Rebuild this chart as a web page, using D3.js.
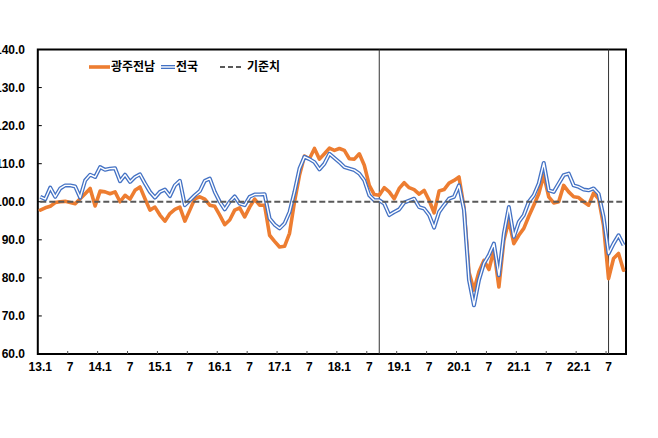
<!DOCTYPE html>
<html><head><meta charset="utf-8">
<script src="https://cdn.jsdelivr.net/npm/d3@7"></script>
<style>html,body{margin:0;padding:0;background:#fff;overflow:hidden}</style>
</head><body><svg id="c" width="658" height="438"></svg>
<script>
// ---- data ----
const years = [13,14,15,16,17,18,19,20,21,22];
const categories = [];
years.forEach(y => { for (let m = 1; m <= 12; m++) { if (y === 22 && m > 10) break; categories.push(y + "." + m); } });

const gwangjuJeonnam = [
 97.8,98.4,98.8,99.8,100.0,100.1,99.8,99.5,100.8,102.1,103.5,98.9,
 102.8,102.6,102.1,102.6,100.0,101.7,100.7,103.0,103.9,100.8,97.8,98.6,
 96.5,94.9,96.9,98.0,98.6,94.9,97.8,100.8,101.3,100.7,99.1,98.8,
 96.5,94.0,95.2,97.8,98.4,96.0,98.6,100.7,99.1,99.1,91.2,89.6,
 88.1,88.3,91.7,100.0,107.0,112.0,111.3,114.0,111.2,112.6,114.1,113.5,
 114.0,113.5,111.3,111.2,112.6,109.6,104.3,101.9,101.7,103.7,102.6,100.8,
 103.5,105.0,103.7,103.2,102.0,103.0,100.4,97.1,102.8,103.2,104.9,105.6,
 106.5,98.5,81.5,76.8,81.6,84.6,82.2,87.3,77.6,89.9,95.1,89.0,
 91.2,93.0,96.2,99.1,102.1,107.0,101.3,99.7,100.0,104.3,102.6,101.3,
 101.1,100.0,99.1,102.3,100.8,93.8,79.8,85.1,86.4,82.0
];
const national = [
 101.3,100.7,103.7,101.3,103.5,104.3,104.3,104.0,101.1,105.6,107.1,106.5,
 109.1,108.4,108.7,108.8,105.4,107.1,105.2,106.5,107.2,104.8,102.6,101.1,
 102.6,103.2,101.5,104.3,105.5,99.1,100.4,101.7,102.8,105.5,106.1,102.6,
 100.0,98.0,100.0,101.4,99.5,99.1,101.3,101.9,101.9,102.0,95.6,94.0,
 93.0,94.3,97.3,102.6,108.7,111.8,111.2,110.4,108.5,110.0,112.6,111.5,
 110.4,109.1,108.7,108.3,107.4,105.6,101.7,100.4,100.4,99.5,96.5,97.3,
 98.0,99.8,100.3,100.8,98.6,98.2,96.5,93.2,97.3,99.1,100.8,101.3,
 104.3,97.8,79.5,72.8,79.4,83.8,86.0,89.0,80.7,91.6,98.6,90.8,
 94.7,96.5,100.0,101.7,104.8,110.2,103.0,102.6,104.8,107.0,107.4,104.3,
 103.9,103.2,103.0,103.5,102.1,96.0,86.4,89.0,91.2,88.6
];
const baseline = 100;
const yTicks = [60,70,80,90,100,110,120,130,140];
const xTickLabels = ["13.1","7","14.1","7","15.1","7","16.1","7","17.1","7","18.1","7","19.1","7","20.1","7","21.1","7","22.1","7"];
const markerMonths = ["18.9","22.7"];
const seriesNames = ["광주전남","전국","기준치"];

// ---- layout ----
const L = 37.8, R = 626, T = 49.5, B = 354;
const svg = d3.select("#c");
const x = d3.scaleBand().domain(categories).range([L, R]).padding(0);
const bw = x.bandwidth();
const cx = c => x(c) + bw / 2;
const y = d3.scaleLinear().domain([60, 140]).range([B, T]);

const ORANGE = "#ED7D31", BLUE = "#4472C4", GRAY = "#595959";

// frame
svg.append("rect").attr("x", L).attr("y", T).attr("width", R - L).attr("height", B - T)
  .attr("fill", "none").attr("stroke", "#000").attr("stroke-width", 2);

// y ticks & labels
yTicks.forEach(v => {
  svg.append("line").attr("x1", L).attr("x2", L + 4).attr("y1", y(v)).attr("y2", y(v)).attr("stroke", "#000").attr("stroke-width", 1);
  svg.append("text").attr("x", 25).attr("y", y(v)).attr("dy", "0.36em").attr("text-anchor", "end")
    .attr("font-family", "Liberation Sans, Arial, sans-serif").attr("font-weight", "bold").attr("font-size", 12)
    .attr("fill", "#000").text(v.toFixed(1));
});

// x ticks & labels
const tickCats = categories.filter((c, i) => i % 6 === 0);
tickCats.forEach((c, k) => {
  if (k > 0) svg.append("line").attr("x1", x(c)).attr("x2", x(c)).attr("y1", B).attr("y2", B - 3).attr("stroke", "#555").attr("stroke-width", 1);
  svg.append("text").attr("x", cx(c)).attr("y", 371).attr("text-anchor", "middle")
    .attr("font-family", "Liberation Sans, Arial, sans-serif").attr("font-weight", "bold").attr("font-size", 12)
    .attr("fill", "#000").text(xTickLabels[k]);
});

// marker vertical lines
markerMonths.forEach(m => {
  svg.append("line").attr("x1", cx(m)).attr("x2", cx(m)).attr("y1", T).attr("y2", B).attr("stroke", "#333").attr("stroke-width", 1);
});

const line = d3.line().x((d, i) => cx(categories[i])).y(d => y(d));

// orange series
svg.append("path").datum(gwangjuJeonnam).attr("d", line).attr("fill", "none")
  .attr("stroke", ORANGE).attr("stroke-width", 3.6).attr("stroke-linejoin", "round").attr("stroke-linecap", "round");
// national double line
svg.append("path").datum(national).attr("d", line).attr("fill", "none")
  .attr("stroke", BLUE).attr("stroke-width", 4).attr("stroke-linejoin", "round");
svg.append("path").datum(national).attr("d", line).attr("fill", "none")
  .attr("stroke", "#fff").attr("stroke-width", 1.4).attr("stroke-linejoin", "round");
// baseline
svg.append("line").attr("x1", cx(categories[0])).attr("x2", cx(categories[categories.length - 1]))
  .attr("y1", y(baseline)).attr("y2", y(baseline)).attr("stroke", GRAY).attr("stroke-width", 2).attr("stroke-dasharray", "6,3");

// legend
const ly = 67;
const lf = g => g.attr("font-family", "Noto Sans CJK KR, sans-serif").attr("font-weight", "bold").attr("font-size", 12).attr("fill", "#000");
svg.append("line").attr("x1", 89).attr("x2", 110).attr("y1", ly).attr("y2", ly).attr("stroke", ORANGE).attr("stroke-width", 3.6);
svg.append("text").attr("x", 111).attr("y", ly).attr("dy", "0.35em").call(lf).text(seriesNames[0]);
svg.append("line").attr("x1", 161).attr("x2", 175).attr("y1", ly).attr("y2", ly).attr("stroke", BLUE).attr("stroke-width", 4);
svg.append("line").attr("x1", 161).attr("x2", 175).attr("y1", ly).attr("y2", ly).attr("stroke", "#fff").attr("stroke-width", 1.4);
svg.append("text").attr("x", 176).attr("y", ly).attr("dy", "0.35em").call(lf).text(seriesNames[1]);
svg.append("line").attr("x1", 220).attr("x2", 242).attr("y1", ly).attr("y2", ly).attr("stroke", GRAY).attr("stroke-width", 2).attr("stroke-dasharray", "5,3");
svg.append("text").attr("x", 247).attr("y", ly).attr("dy", "0.35em").call(lf).text(seriesNames[2]);
</script></body></html>
